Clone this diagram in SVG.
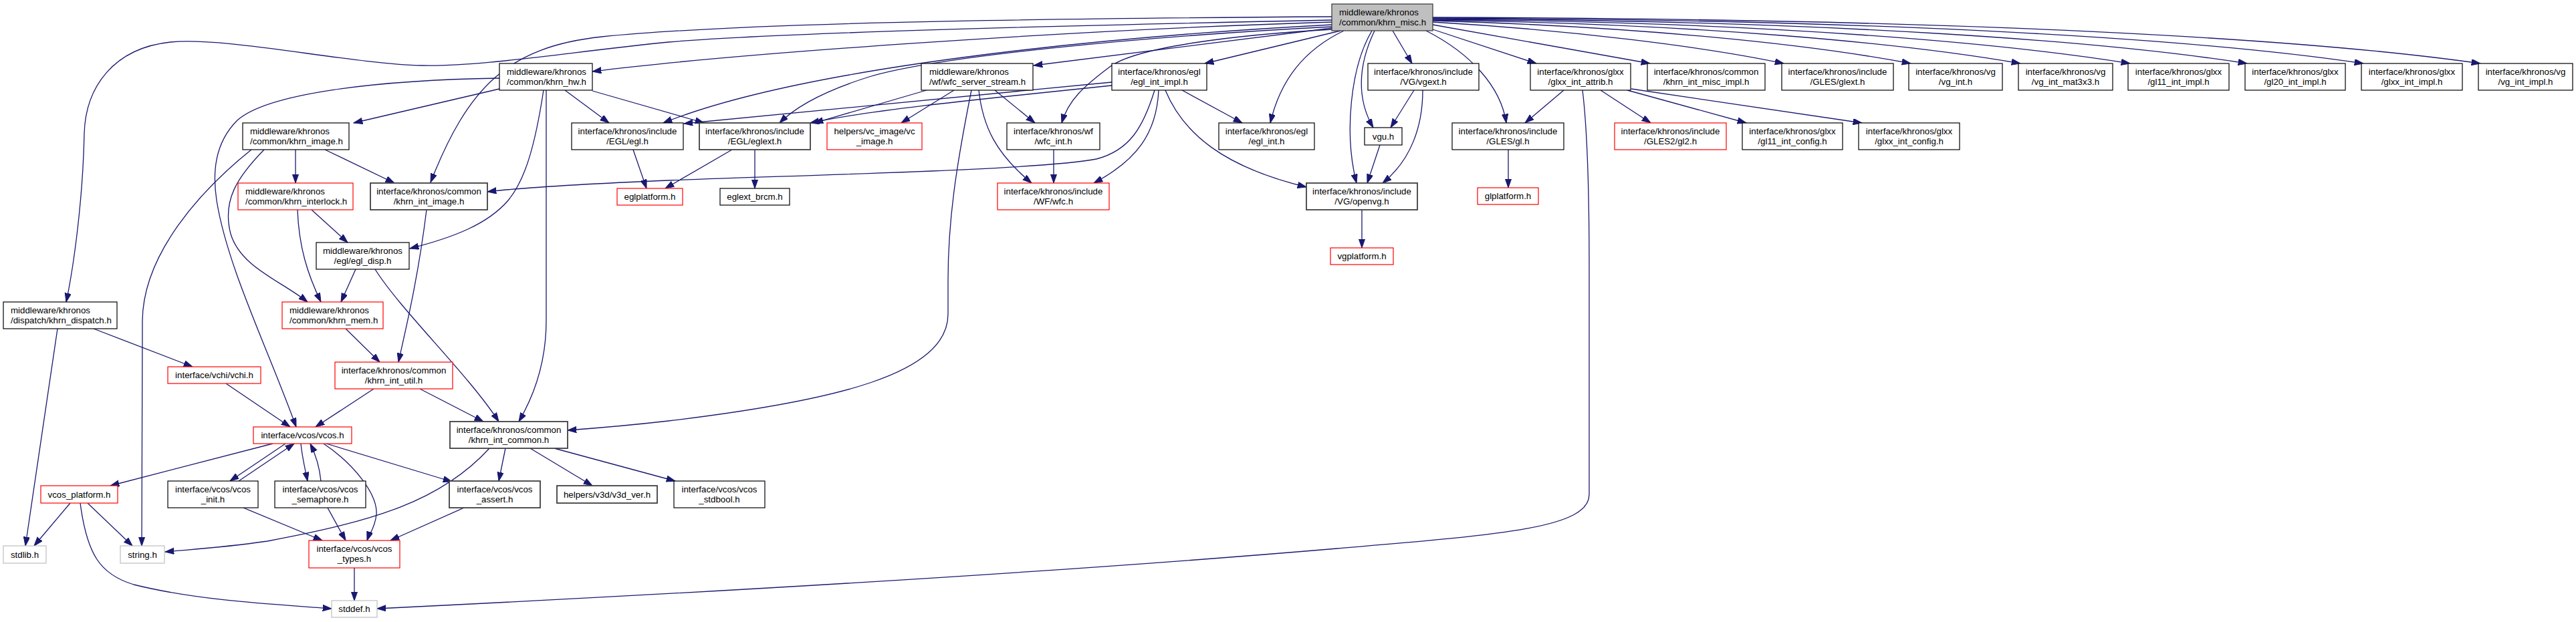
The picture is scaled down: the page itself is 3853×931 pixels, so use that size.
<svg xmlns="http://www.w3.org/2000/svg" width="3853" height="931" viewBox="0 0 3853 931">
<style>
.n rect{fill:#fff;stroke:#000;stroke-width:1.2}
.n.red rect{stroke:#ff0000}
.n.gry rect{stroke:#bfbfbf}
.n.dk rect{stroke:#404040;stroke-width:1.8}
.n.root rect{fill:#bfbfbf;stroke:#333}
text{font-family:"Liberation Sans",Arial,sans-serif;font-size:13.3px;fill:#000}
.c{text-anchor:middle}
#edges path{fill:none;stroke:#191970;stroke-width:1.3;marker-end:url(#ah)}
</style>
<defs>
<marker id="ah" markerUnits="userSpaceOnUse" markerWidth="14" markerHeight="10" viewBox="0 0 14 10" refX="13.3" refY="4.65" orient="auto">
<path d="M0,0 L13.3,4.65 L0,9.3 z" fill="#191970" stroke="#191970" stroke-width="1"/>
</marker>
</defs>
<rect width="3853" height="931" fill="#fff"/>
<g id="edges">
<path d="M1992,25 C1500,28 1100,35 900,55 C760,70 700,130 644,273"/>
<path d="M1992,30 C1500,40 1150,50 1000,63 C850,78 720,100 631,98 C520,95 340,55 255,63 C170,72 128,130 126,200 C124,300 110,400 99,452"/>
<path d="M1992,33 C1600,45 1100,80 886,107"/>
<path d="M1992,37 C1650,55 1200,100 992,184"/>
<path d="M1992,40 C1700,55 1400,85 1300,115 C1230,137 1190,160 1166,184"/>
<path d="M1992,42 L1546,98"/>
<path d="M2005,46 L1802,95"/>
<path d="M1993,44 C1850,52 1700,70 1660,100 C1620,130 1598,150 1588,184"/>
<path d="M2010,46 C1950,75 1915,120 1900,184"/>
<path d="M2052,46 C2020,100 2010,200 2029,274"/>
<path d="M2056,46 C2030,100 2030,150 2054,191"/>
<path d="M2083,46 L2112,95"/>
<path d="M2133,46 C2200,80 2245,130 2253,184"/>
<path d="M2143,44 L2298,95"/>
<path d="M2143,37 L2468,95"/>
<path d="M2143,33 C2350,45 2550,70 2668,95"/>
<path d="M2143,31 C2450,40 2700,65 2858,95"/>
<path d="M2143,30 C2550,36 2850,65 3022,95"/>
<path d="M2143,29 C2650,33 3000,65 3186,95"/>
<path d="M2143,28 C2750,31 3150,62 3361,95"/>
<path d="M2143,27 C2850,29 3300,60 3535,95"/>
<path d="M2143,26 C2950,28 3450,58 3710,95"/>
<path d="M747,133 L529,184"/>
<path d="M845,135 L911,184"/>
<path d="M886,136 L1053,184"/>
<path d="M813,135 C800,220 785,270 760,300 C730,335 680,355 613,372"/>
<path d="M817,135 L817,480 C817,540 800,590 776,631"/>
<path d="M747,117 C560,120 400,140 355,180 C320,215 318,260 324,300 C340,400 400,520 443,639"/>
<path d="M442,224 L442,274"/>
<path d="M486,224 L590,274"/>
<path d="M395,224 C355,265 332,300 345,350 C360,400 420,420 460,452"/>
<path d="M376,224 C300,285 214,380 213,480 L212,817"/>
<path d="M466,314 L520,363"/>
<path d="M445,314 C447,370 460,410 480,452"/>
<path d="M638,314 C625,420 605,500 596,542"/>
<path d="M532,403 L510,452"/>
<path d="M561,403 C600,465 700,560 746,631"/>
<path d="M517,492 L568,542"/>
<path d="M559,582 L472,639"/>
<path d="M628,582 L723,631"/>
<path d="M86,492 L38,817"/>
<path d="M140,492 L288,549"/>
<path d="M338,574 L434,639"/>
<path d="M408,664 L165,727"/>
<path d="M427,664 L344,720"/>
<path d="M357,720 L440,664"/>
<path d="M450,664 C452,685 456,700 460,720"/>
<path d="M480,720 C478,700 472,680 464,664"/>
<path d="M484,664 C530,695 565,740 563,770 C561,790 552,800 549,809"/>
<path d="M488,664 L676,721"/>
<path d="M732,671 C660,750 560,780 400,810 C330,820 290,822 247,826"/>
<path d="M756,671 L746,720"/>
<path d="M793,671 L886,727"/>
<path d="M829,671 L1010,720"/>
<path d="M105,753 L51,817"/>
<path d="M131,753 L198,817"/>
<path d="M120,753 C130,830 150,860 200,875 C300,900 420,905 496,911"/>
<path d="M364,760 L482,809"/>
<path d="M490,760 L517,809"/>
<path d="M694,760 L584,809"/>
<path d="M530,850 L530,899"/>
<path d="M2367,135 C2375,200 2377,300 2377,400 L2377,740 C2377,790 2250,800 2000,821 C1600,855 1100,885 564,911"/>
<path d="M947,224 L967,282"/>
<path d="M1095,224 L995,282"/>
<path d="M1129,224 L1129,282"/>
<path d="M1727,135 C1710,190 1690,225 1640,238 C1550,255 1200,262 1000,270 C880,275 790,280 729,287"/>
<path d="M1733,135 C1730,200 1700,240 1636,274"/>
<path d="M1768,135 L1858,184"/>
<path d="M1743,135 C1770,200 1830,250 1954,280"/>
<path d="M1663,123 L1023,185"/>
<path d="M1663,128 C1450,150 1300,165 1212,184"/>
<path d="M1386,135 L1218,184"/>
<path d="M1427,135 L1348,184"/>
<path d="M1488,135 L1548,184"/>
<path d="M1464,135 C1470,190 1490,230 1543,274"/>
<path d="M1453,135 C1430,250 1418,330 1418,420 L1418,470 C1418,560 1250,600 1000,630 C930,638 890,641 849,644"/>
<path d="M1576,224 L1576,274"/>
<path d="M2115,135 L2080,191"/>
<path d="M2128,135 C2128,190 2110,240 2068,274"/>
<path d="M2064,217 L2045,274"/>
<path d="M2037,314 L2037,371"/>
<path d="M2256,224 L2256,281"/>
<path d="M2339,135 L2281,184"/>
<path d="M2394,135 L2469,184"/>
<path d="M2434,135 L2612,184"/>
<path d="M2440,133 L2785,184"/>
</g>
<g id="root" class="n root"><rect x="1992" y="6" width="151" height="40"/><text x="2003" y="22.5">middleware/khronos</text><text x="2003" y="37.5">/common/khrn_misc.h</text></g>
<g id="khrn_hw" class="n"><rect x="747" y="95" width="139" height="40"/><text x="758" y="111.5">middleware/khronos</text><text x="758" y="126.5">/common/khrn_hw.h</text></g>
<g id="wfc_server_stream" class="n"><rect x="1378" y="95" width="167" height="40"/><text x="1390" y="111.5">middleware/khronos</text><text x="1390" y="126.5">/wf/wfc_server_stream.h</text></g>
<g id="egl_int_impl" class="n"><rect x="1663" y="95" width="142" height="40"/><text class="c" x="1734" y="111.5">interface/khronos/egl</text><text class="c" x="1734" y="126.5">/egl_int_impl.h</text></g>
<g id="vgext" class="n"><rect x="2046" y="95" width="166" height="40"/><text class="c" x="2129" y="111.5">interface/khronos/include</text><text class="c" x="2129" y="126.5">/VG/vgext.h</text></g>
<g id="glxx_int_attrib" class="n"><rect x="2289" y="95" width="150" height="40"/><text class="c" x="2364" y="111.5">interface/khronos/glxx</text><text class="c" x="2364" y="126.5">/glxx_int_attrib.h</text></g>
<g id="khrn_int_misc_impl" class="n"><rect x="2464" y="95" width="176" height="40"/><text class="c" x="2552" y="111.5">interface/khronos/common</text><text class="c" x="2552" y="126.5">/khrn_int_misc_impl.h</text></g>
<g id="gles_glext" class="n"><rect x="2665" y="95" width="167" height="40"/><text class="c" x="2748.5" y="111.5">interface/khronos/include</text><text class="c" x="2748.5" y="126.5">/GLES/glext.h</text></g>
<g id="vg_int" class="n"><rect x="2855" y="95" width="140" height="40"/><text class="c" x="2925" y="111.5">interface/khronos/vg</text><text class="c" x="2925" y="126.5">/vg_int.h</text></g>
<g id="vg_int_mat3x3" class="n"><rect x="3019" y="95" width="141" height="40"/><text class="c" x="3089.5" y="111.5">interface/khronos/vg</text><text class="c" x="3089.5" y="126.5">/vg_int_mat3x3.h</text></g>
<g id="gl11_int_impl" class="n"><rect x="3183" y="95" width="151" height="40"/><text class="c" x="3258.5" y="111.5">interface/khronos/glxx</text><text class="c" x="3258.5" y="126.5">/gl11_int_impl.h</text></g>
<g id="gl20_int_impl" class="n"><rect x="3358" y="95" width="150" height="40"/><text class="c" x="3433" y="111.5">interface/khronos/glxx</text><text class="c" x="3433" y="126.5">/gl20_int_impl.h</text></g>
<g id="glxx_int_impl" class="n"><rect x="3532" y="95" width="151" height="40"/><text class="c" x="3607.5" y="111.5">interface/khronos/glxx</text><text class="c" x="3607.5" y="126.5">/glxx_int_impl.h</text></g>
<g id="vg_int_impl" class="n"><rect x="3707" y="95" width="141" height="40"/><text class="c" x="3777.5" y="111.5">interface/khronos/vg</text><text class="c" x="3777.5" y="126.5">/vg_int_impl.h</text></g>
<g id="khrn_image" class="n"><rect x="363" y="184" width="159" height="40"/><text x="374" y="200.5">middleware/khronos</text><text x="374" y="215.5">/common/khrn_image.h</text></g>
<g id="egl_h" class="n"><rect x="855" y="184" width="167" height="40"/><text class="c" x="938.5" y="200.5">interface/khronos/include</text><text class="c" x="938.5" y="215.5">/EGL/egl.h</text></g>
<g id="eglext_h" class="n dk"><rect x="1046" y="184" width="166" height="40"/><text class="c" x="1129" y="200.5">interface/khronos/include</text><text class="c" x="1129" y="215.5">/EGL/eglext.h</text></g>
<g id="vc_image" class="n red"><rect x="1237" y="184" width="142" height="40"/><text class="c" x="1308" y="200.5">helpers/vc_image/vc</text><text class="c" x="1308" y="215.5">_image.h</text></g>
<g id="wfc_int" class="n"><rect x="1506" y="184" width="139" height="40"/><text class="c" x="1575.5" y="200.5">interface/khronos/wf</text><text class="c" x="1575.5" y="215.5">/wfc_int.h</text></g>
<g id="egl_int" class="n"><rect x="1823" y="184" width="143" height="40"/><text class="c" x="1894.5" y="200.5">interface/khronos/egl</text><text class="c" x="1894.5" y="215.5">/egl_int.h</text></g>
<g id="vgu" class="n"><rect x="2041" y="191" width="56" height="26"/><text class="c" x="2069" y="208.5">vgu.h</text></g>
<g id="gles_gl" class="n"><rect x="2172" y="184" width="167" height="40"/><text class="c" x="2255.5" y="200.5">interface/khronos/include</text><text class="c" x="2255.5" y="215.5">/GLES/gl.h</text></g>
<g id="gles2_gl2" class="n red"><rect x="2415" y="184" width="167" height="40"/><text class="c" x="2498.5" y="200.5">interface/khronos/include</text><text class="c" x="2498.5" y="215.5">/GLES2/gl2.h</text></g>
<g id="gl11_int_config" class="n"><rect x="2606" y="184" width="150" height="40"/><text class="c" x="2681" y="200.5">interface/khronos/glxx</text><text class="c" x="2681" y="215.5">/gl11_int_config.h</text></g>
<g id="glxx_int_config" class="n"><rect x="2780" y="184" width="151" height="40"/><text class="c" x="2855.5" y="200.5">interface/khronos/glxx</text><text class="c" x="2855.5" y="215.5">/glxx_int_config.h</text></g>
<g id="khrn_interlock" class="n red"><rect x="356" y="274" width="172" height="40"/><text x="367" y="290.5">middleware/khronos</text><text x="367" y="305.5">/common/khrn_interlock.h</text></g>
<g id="khrn_int_image" class="n dk"><rect x="554" y="274" width="175" height="40"/><text class="c" x="641.5" y="290.5">interface/khronos/common</text><text class="c" x="641.5" y="305.5">/khrn_int_image.h</text></g>
<g id="eglplatform" class="n red"><rect x="923" y="282" width="98" height="25"/><text class="c" x="972" y="299">eglplatform.h</text></g>
<g id="eglext_brcm" class="n"><rect x="1077" y="282" width="104" height="25"/><text class="c" x="1129" y="299">eglext_brcm.h</text></g>
<g id="wf_wfc" class="n red"><rect x="1492" y="274" width="167" height="40"/><text class="c" x="1575.5" y="290.5">interface/khronos/include</text><text class="c" x="1575.5" y="305.5">/WF/wfc.h</text></g>
<g id="openvg" class="n dk"><rect x="1954" y="274" width="166" height="40"/><text class="c" x="2037" y="290.5">interface/khronos/include</text><text class="c" x="2037" y="305.5">/VG/openvg.h</text></g>
<g id="glplatform" class="n red"><rect x="2210" y="281" width="91" height="25"/><text class="c" x="2255.5" y="298">glplatform.h</text></g>
<g id="egl_disp" class="n"><rect x="473" y="363" width="139" height="40"/><text class="c" x="542.5" y="379.5">middleware/khronos</text><text class="c" x="542.5" y="394.5">/egl/egl_disp.h</text></g>
<g id="vgplatform" class="n red"><rect x="1990" y="371" width="94" height="25"/><text class="c" x="2037" y="388">vgplatform.h</text></g>
<g id="khrn_dispatch" class="n"><rect x="5" y="452" width="170" height="40"/><text x="16" y="468.5">middleware/khronos</text><text x="16" y="483.5">/dispatch/khrn_dispatch.h</text></g>
<g id="khrn_mem" class="n red"><rect x="422" y="452" width="151" height="40"/><text x="433" y="468.5">middleware/khronos</text><text x="433" y="483.5">/common/khrn_mem.h</text></g>
<g id="vchi" class="n red"><rect x="251" y="549" width="139" height="25"/><text class="c" x="320.5" y="566">interface/vchi/vchi.h</text></g>
<g id="khrn_int_util" class="n red"><rect x="501" y="542" width="176" height="40"/><text class="c" x="589" y="558.5">interface/khronos/common</text><text class="c" x="589" y="573.5">/khrn_int_util.h</text></g>
<g id="vcos_h" class="n red"><rect x="379" y="639" width="147" height="25"/><text class="c" x="452.5" y="656">interface/vcos/vcos.h</text></g>
<g id="khrn_int_common" class="n dk"><rect x="673" y="631" width="176" height="40"/><text class="c" x="761" y="647.5">interface/khronos/common</text><text class="c" x="761" y="662.5">/khrn_int_common.h</text></g>
<g id="vcos_platform" class="n red"><rect x="61" y="727" width="115" height="26"/><text class="c" x="118.5" y="744.5">vcos_platform.h</text></g>
<g id="vcos_init" class="n"><rect x="251" y="720" width="135" height="40"/><text class="c" x="318.5" y="736.5">interface/vcos/vcos</text><text class="c" x="318.5" y="751.5">_init.h</text></g>
<g id="vcos_semaphore" class="n"><rect x="411" y="720" width="136" height="40"/><text class="c" x="479" y="736.5">interface/vcos/vcos</text><text class="c" x="479" y="751.5">_semaphore.h</text></g>
<g id="vcos_assert" class="n dk"><rect x="672" y="720" width="136" height="40"/><text class="c" x="740" y="736.5">interface/vcos/vcos</text><text class="c" x="740" y="751.5">_assert.h</text></g>
<g id="v3d_ver" class="n dk"><rect x="833" y="727" width="150" height="26"/><text class="c" x="908" y="744.5">helpers/v3d/v3d_ver.h</text></g>
<g id="vcos_stdbool" class="n"><rect x="1008" y="720" width="136" height="40"/><text class="c" x="1076" y="736.5">interface/vcos/vcos</text><text class="c" x="1076" y="751.5">_stdbool.h</text></g>
<g id="stdlib" class="n gry"><rect x="5" y="817" width="64" height="26"/><text class="c" x="37" y="834.5">stdlib.h</text></g>
<g id="string" class="n gry"><rect x="180" y="817" width="66" height="26"/><text class="c" x="213" y="834.5">string.h</text></g>
<g id="vcos_types" class="n red"><rect x="462" y="809" width="136" height="41"/><text class="c" x="530" y="825.5">interface/vcos/vcos</text><text class="c" x="530" y="840.5">_types.h</text></g>
<g id="stddef" class="n gry"><rect x="496" y="899" width="68" height="25"/><text class="c" x="530" y="916">stddef.h</text></g>
</svg>
